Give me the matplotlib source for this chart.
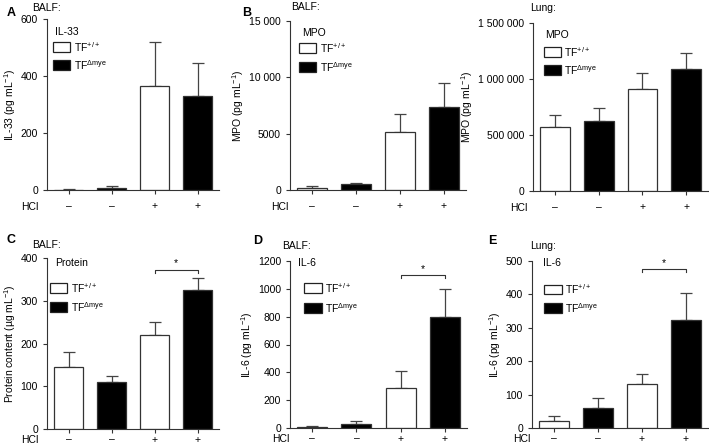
import numpy as np
import matplotlib.pyplot as plt
from matplotlib.patches import Rectangle

plt.rcParams['font.family'] = ['Liberation Sans', 'DejaVu Sans']
plt.rcParams['mathtext.fontset'] = 'custom'
plt.rcParams['mathtext.rm'] = 'Liberation Sans'
plt.rcParams['mathtext.it'] = 'Liberation Sans'
plt.rcParams['mathtext.default'] = 'regular'

# group order: TF+/+ ctrl, TFdmye ctrl, TF+/+ HCl, TFdmye HCl
hcl_labels = ['\u2013', '\u2013', '+', '+']
fills = ['white', 'black', 'white', 'black']

il33_balf = [1, 8, 364, 330]
il33_balf_err = [1, 7, 157, 114]

mpo_balf = [220, 530, 5110, 7380]
mpo_balf_err = [120, 120, 1620, 2130]

mpo_lung = [571000, 628000, 911000, 1089000]
mpo_lung_err = [104000, 110000, 143000, 146000]

protein_balf = [146, 109, 219, 324]
protein_balf_err = [33, 16, 32, 29]

il6_balf = [6, 29, 291, 799]
il6_balf_err = [6, 19, 119, 198]

il6_lung = [20, 61, 131, 324]
il6_lung_err = [16, 28, 31, 81]

panels = [
    dict(px=(47, 19, 219, 190), letter='A', letter_xy=(7, 13), tissue='BALF:', tissue_xy=(32, 8),
         name='IL-33', vals=il33_balf, errs=il33_balf_err, ymax=600,
         yticks=[0, 200, 400, 600], yticklabels=['0', '200', '400', '600'],
         ylabel='IL-33 (pg mL$^{-1}$)', name_xy=(0.047, 0.925), box_x=0.035, box_y=(0.807, 0.70),
         hcl_x=-0.052, sig=None),
    dict(px=(290, 21, 466, 190), letter='B', letter_xy=(242, 13), tissue='BALF:', tissue_xy=(291, 7),
         name='MPO', vals=mpo_balf, errs=mpo_balf_err, ymax=15000,
         yticks=[0, 5000, 10000, 15000], yticklabels=['0', '5000', '10 000', '15 000'],
         ylabel='MPO (pg mL$^{-1}$)', name_xy=(0.068, 0.93), box_x=0.05, box_y=(0.81, 0.70),
         hcl_x=-0.01, sig=None),
    dict(px=(533, 23, 708, 191), letter=None, letter_xy=None, tissue='Lung:', tissue_xy=(530, 8),
         name='MPO', vals=mpo_lung, errs=mpo_lung_err, ymax=1500000,
         yticks=[0, 500000, 1000000, 1500000], yticklabels=['0', '500 000', '1 000 000', '1 500 000'],
         ylabel='MPO (pg mL$^{-1}$)', name_xy=(0.07, 0.93), box_x=0.06, box_y=(0.80, 0.69),
         hcl_x=-0.034, sig=None),
    dict(px=(47, 258, 219, 429), letter='C', letter_xy=(6, 240), tissue='BALF:', tissue_xy=(32, 245),
         name='Protein', vals=protein_balf, errs=protein_balf_err, ymax=400,
         yticks=[0, 100, 200, 300, 400], yticklabels=['0', '100', '200', '300', '400'],
         ylabel='Protein content (\u00b5g mL$^{-1}$)', name_xy=(0.047, 0.97), box_x=0.017, box_y=(0.795, 0.684),
         hcl_x=-0.052, sig=373),
    dict(px=(290, 261, 467, 428), letter='D', letter_xy=(253, 241), tissue='BALF:', tissue_xy=(282, 246),
         name='IL-6', vals=il6_balf, errs=il6_balf_err, ymax=1200,
         yticks=[0, 200, 400, 600, 800, 1000, 1200],
         yticklabels=['0', '200', '400', '600', '800', '1000', '1200'],
         ylabel='IL-6 (pg mL$^{-1}$)', name_xy=(0.045, 0.988), box_x=0.08, box_y=(0.81, 0.69),
         hcl_x=-0.005, sig=1102),
    dict(px=(532, 261, 708, 428), letter='E', letter_xy=(488, 241), tissue='Lung:', tissue_xy=(530, 246),
         name='IL-6', vals=il6_lung, errs=il6_lung_err, ymax=500,
         yticks=[0, 100, 200, 300, 400, 500], yticklabels=['0', '100', '200', '300', '400', '500'],
         ylabel='IL-6 (pg mL$^{-1}$)', name_xy=(0.06, 0.988), box_x=0.07, box_y=(0.80, 0.69),
         hcl_x=-0.01, sig=477),
]

W, H = 709, 446
fig = plt.figure(figsize=(W / 100, H / 100), dpi=100)
fs = 7.5
x = np.arange(4)

for p in panels:
    l, t, r, b = p['px']
    top_row = t < 100
    ax = fig.add_axes([l / W, (H - b) / H, (r - l) / W, (b - t) / H])
    ax.bar(x, p['vals'], width=0.68, color=fills, edgecolor='#333333', linewidth=0.9, zorder=2)
    ax.errorbar(x, p['vals'], yerr=[np.zeros(4), p['errs']], fmt='none', ecolor='#444444',
                elinewidth=0.9, capsize=4, capthick=0.9, zorder=1)
    ax.set_xlim(-0.5, 3.5)
    ax.set_ylim(0, p['ymax'])
    ax.set_yticks(p['yticks'])
    ax.set_yticklabels(p['yticklabels'], fontsize=fs)
    ax.set_xticks(x)
    ax.set_xticklabels(hcl_labels, fontsize=fs)
    ax.tick_params(axis='both', direction='out', length=3, width=0.8, color='#333333')
    ax.tick_params(axis='x', pad=5 if top_row else 1)
    ax.set_ylabel(p['ylabel'], fontsize=fs, labelpad=2)
    for s in ['top', 'right']:
        ax.spines[s].set_visible(False)
    for s in ['left', 'bottom']:
        ax.spines[s].set_linewidth(0.8)
        ax.spines[s].set_color('#333333')

    # HCl row label
    hy = -0.10 if top_row else -0.065
    ax.text(p['hcl_x'], hy, 'HCl', transform=ax.transAxes, ha='right', va='center', fontsize=fs)

    # legend drawn by hand
    ax.text(p['name_xy'][0], p['name_xy'][1], p['name'], transform=ax.transAxes,
            ha='left', va='center', fontsize=fs)
    bx = p['box_x']
    for by, fc, lab in zip(p['box_y'], ['white', 'black'],
                           ['TF$^{+/+}$', 'TF$^{\\Delta mye}$']):
        ax.add_patch(Rectangle((bx, by), 0.1, 0.058, transform=ax.transAxes, facecolor=fc,
                               edgecolor='#222222', linewidth=0.9, clip_on=False))
        ax.text(bx + 0.12, by + 0.029, lab, transform=ax.transAxes, ha='left', va='center',
                fontsize=fs)

    # significance bracket
    if p['sig'] is not None:
        ys = p['sig']
        d = p['ymax'] * 0.02
        ax.plot([2, 2, 3, 3], [ys - d, ys, ys, ys - d], color='#333333', lw=0.8, clip_on=False)
        ax.text(2.5, ys + d * 0.3, '*', ha='center', va='bottom', fontsize=fs)

    # panel letter and tissue
    if p['letter']:
        lx, ly = p['letter_xy']
        fig.text(lx / W, 1 - ly / H, p['letter'], fontsize=9, fontweight='bold', ha='left', va='center')
    tx, ty = p['tissue_xy']
    fig.text(tx / W, 1 - ty / H, p['tissue'], fontsize=fs, ha='left', va='center')

fig.savefig('out.png', dpi=100)
